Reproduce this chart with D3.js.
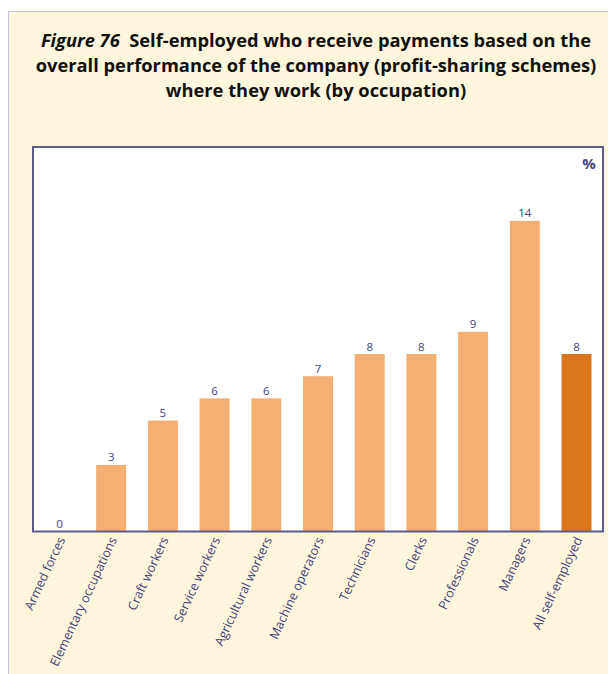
<!DOCTYPE html>
<html><head><meta charset="utf-8">
<script src="https://cdn.jsdelivr.net/npm/d3@7/dist/d3.min.js"></script>
<style>
html,body{margin:0;padding:0;background:#fff;}
svg{display:block;}
</style></head>
<body>
<script>
const categories = ["Armed forces","Elementary occupations","Craft workers","Service workers","Agricultural workers","Machine operators","Technicians","Clerks","Professionals","Managers","All self-employed"];
const values = [0,3,5,6,6,7,8,8,9,14,8];
const highlight = ["All self-employed"];
const titleLines = [
  {italic:"Figure 76", bold:"  Self-employed who receive payments based on the"},
  {italic:"", bold:"overall performance of the company (profit-sharing schemes)"},
  {italic:"", bold:"where they work (by occupation)"}
];
const unitLabel = "%";

(function(){
const W = 608, H = 674;
const svg = d3.select("body").append("svg").attr("width", W).attr("height", H);

svg.append("rect").attr("x", 8.5).attr("y", 11.5).attr("width", W).attr("height", H)
  .attr("fill", "#fef6dc").attr("stroke", "#c4c4d8").attr("stroke-width", 1);

const font = "'Open Sans', 'Noto Sans', sans-serif";
const navy = "#43437f";

const title = svg.append("g");
titleLines.forEach((ln, i) => {
  const t = title.append("text").attr("x", 316).attr("y", 47 + i * 25)
    .attr("text-anchor", "middle").attr("font-family", font)
    .attr("font-size", 18.3).attr("font-weight", "bold").attr("fill", "#111");
  if (ln.italic) t.append("tspan").attr("font-style", "italic").text(ln.italic);
  t.append("tspan").style("white-space", "pre").text(ln.bold);
});

const pL = 33, pR = 603, pT = 147, pB = 531.5;
svg.append("rect").attr("x", pL).attr("y", pT).attr("width", pR - pL).attr("height", pB - pT)
  .attr("fill", "#fff");

const x = d3.scaleBand().domain(categories).range([pL, pR]).paddingInner(0.42).paddingOuter(0.222);
const y = d3.scaleLinear().domain([0, 17.33]).range([pB, pT]);

const g = svg.append("g");
g.selectAll("rect.bar").data(categories).join("rect").attr("class", "bar")
  .attr("x", d => x(d)).attr("width", x.bandwidth())
  .attr("y", (d, i) => y(values[i])).attr("height", (d, i) => y(0) - y(values[i]))
  .attr("fill", d => highlight.includes(d) ? "#d9761e" : "#f5af72");

g.selectAll("text.val").data(categories).join("text").attr("class", "val")
  .attr("x", d => x(d) + x.bandwidth() / 2)
  .attr("y", (d, i) => y(values[i]) - 3.5)
  .attr("text-anchor", "middle").attr("font-family", font).attr("font-size", 11.5)
  .attr("fill", navy).text((d, i) => values[i]);

svg.append("rect").attr("x", pL).attr("y", pT).attr("width", pR - pL).attr("height", pB - pT)
  .attr("fill", "none").attr("stroke", "#5b5b8e").attr("stroke-width", 2);

svg.append("text").attr("x", 589).attr("y", 169).attr("text-anchor", "middle")
  .attr("font-family", font).attr("font-size", 15).attr("font-weight", "bold")
  .attr("fill", navy).text(unitLabel);

const xAxis = d3.axisBottom(x).tickSize(0).tickPadding(0);
const ax = svg.append("g").attr("transform", `translate(0,${pB})`).call(xAxis);
ax.select(".domain").remove();
ax.selectAll("text")
  .attr("font-family", font).attr("font-size", 12.6).attr("fill", navy)
  .attr("text-anchor", "end").attr("dy", null).attr("y", null)
  .attr("transform", "translate(6,8) rotate(-65)");
})();
</script>
</body></html>
